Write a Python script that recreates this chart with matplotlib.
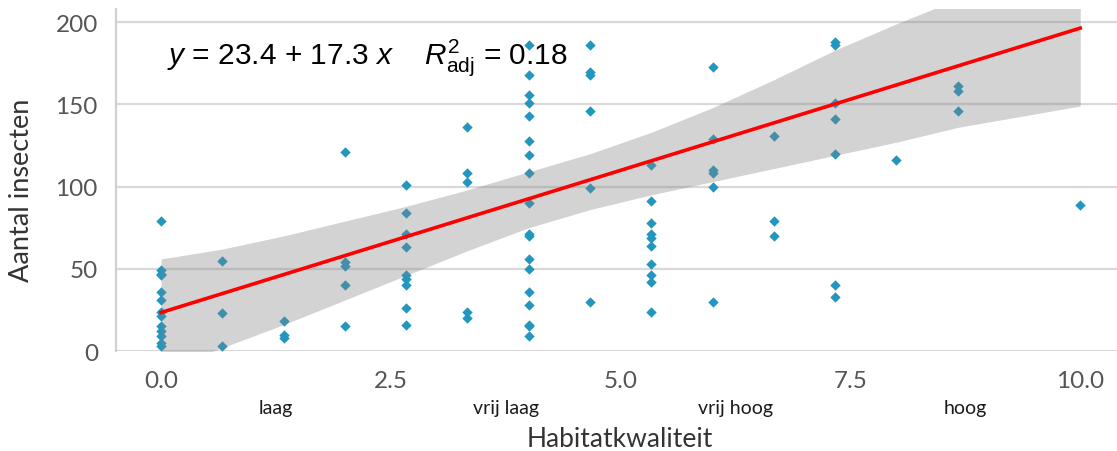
import matplotlib
matplotlib.use("Agg")
import matplotlib.pyplot as plt
import numpy as np

# ----------------------------------------------------------------------------
#  DATA
# ----------------------------------------------------------------------------
habitat_levels = [0.0, 0.667, 1.333, 2.0, 2.667, 3.333, 4.0, 4.667,
                  5.333, 6.0, 6.667, 7.333, 8.0, 8.667, 10.0]
insect_counts = [
    [79, 49, 47, 46, 36, 31, 24, 21, 15, 12, 9, 5, 3],
    [55, 23, 3],
    [18, 10, 8],
    [121, 54, 52, 40, 15],
    [101, 84, 71, 63, 46, 44, 40, 26, 16],
    [136, 108, 103, 24, 20],
    [186, 168, 156, 151, 143, 128, 119, 108, 90, 71, 70, 56, 50, 36, 28, 16, 15, 9],
    [186, 170, 168, 146, 99, 30],
    [113, 91, 78, 71, 69, 64, 53, 46, 42, 24],
    [173, 129, 110, 108, 100, 30],
    [131, 79, 70],
    [188, 186, 151, 141, 120, 40, 33],
    [116],
    [161, 158, 146],
    [89],
]

# fitted model as given in the chart
intercept = 23.4
slope = 17.3
r2_adj = 0.18

# confidence ribbon edges
band_x     = [0, 0.667, 1.333, 2, 2.667, 3.333, 4, 4.667, 5.333, 6, 6.667, 7.333, 8, 8.667, 10]
band_upper = [56, 62, 70, 79, 88, 98, 109, 120, 133, 148, 165, 183, 199, 214, 242]
band_lower = [-12, 2, 16, 31, 46, 61, 75, 86, 95, 103, 111, 119, 127, 136, 149]

xtick_vals = [0.0, 2.5, 5.0, 7.5, 10.0]
ytick_vals = [0, 50, 100, 150, 200]
category_pos = [1.25, 3.75, 6.25, 8.75]
category_labels = ["laag", "vrij laag", "vrij hoog", "hoog"]

# ----------------------------------------------------------------------------
#  PLOT
# ----------------------------------------------------------------------------
plt.rcParams['font.family'] = ['Lato', 'DejaVu Sans']
plt.rcParams['mathtext.fontset'] = 'custom'
plt.rcParams['mathtext.rm'] = 'Liberation Sans'
plt.rcParams['mathtext.it'] = 'Liberation Sans:italic'

x_pts = np.concatenate([[lvl] * len(c) for lvl, c in zip(habitat_levels, insect_counts)])
y_pts = np.concatenate(insect_counts)

fig = plt.figure(figsize=(11.17, 4.52), dpi=100)
ax = fig.add_axes([0.1038, 0.2212, 0.8962, 0.7566])

ax.scatter(x_pts, y_pts, marker='D', s=28, color='#2296bf', linewidths=0,
           zorder=2, clip_on=False)
ax.fill_between(band_x, band_lower, band_upper, color='#818181', alpha=0.35,
                linewidth=0, zorder=3)
fit_x = np.array([habitat_levels[0], habitat_levels[-1]])
ax.plot(fit_x, intercept + slope * fit_x, color='#ff0000', linewidth=2.6, zorder=4)

eq_text = r'$y$ = %.1f + %.1f $x$    $R^{2}_{\mathrm{adj}}$ = %.2f' % (intercept, slope, r2_adj)
ax.text(0.07, 175, eq_text, fontsize=21.5, family='Liberation Sans', color='black',
        va='baseline', ha='left', zorder=5)

ax.set_xlim(-0.49, 10.4)
ax.set_ylim(0, 208)
ax.set_xticks(xtick_vals)
ax.set_xticklabels(['%.1f' % v for v in xtick_vals])
ax.set_yticks(ytick_vals)
ax.tick_params(axis='both', length=0, labelsize=17.5, labelcolor='#555555')
ax.tick_params(axis='x', pad=14)
ax.tick_params(axis='y', pad=13)

ax.grid(axis='y', color='#d9d9d9', linewidth=1.6, zorder=0)
ax.set_axisbelow(True)
for side in ['top', 'right', 'bottom']:
    ax.spines[side].set_visible(False)
ax.spines['left'].set_color('#d0d0d0')
ax.spines['left'].set_linewidth(1.6)

for pos, lab in zip(category_pos, category_labels):
    ax.text(pos, -0.164, lab, transform=ax.get_xaxis_transform(),
            ha='center', va='center', fontsize=14, color='#1a1a1a')

ax.set_xlabel('Habitatkwaliteit', fontsize=19, color='#333333')
ax.xaxis.set_label_coords(0.503, -0.257)
ax.xaxis.label.set_va('center')
ax.set_ylabel('Aantal insecten', fontsize=19.5, color='#333333')
ax.yaxis.set_label_coords(-0.094, 0.474)
ax.yaxis.label.set_va('center')

fig.savefig('out.png', dpi=100)
